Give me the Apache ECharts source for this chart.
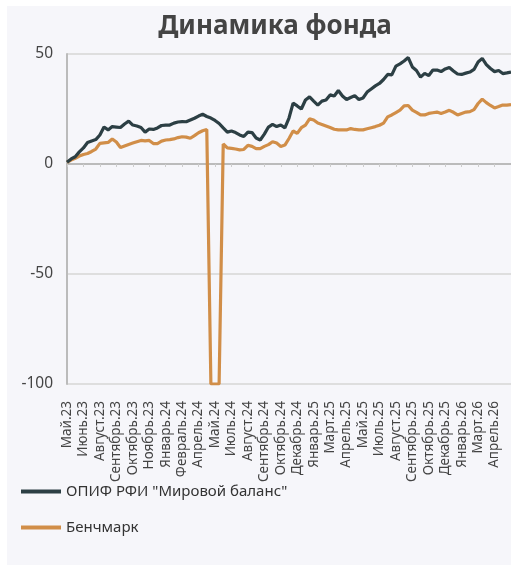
<!DOCTYPE html>
<html>
<head>
<meta charset="utf-8">
<script src="https://cdn.jsdelivr.net/npm/echarts@6/dist/echarts.min.js"></script>
<style>
html,body{margin:0;padding:0;background:#ffffff;width:511px;height:565px;overflow:hidden;}
#bg{position:absolute;left:7px;top:6px;width:504px;height:559px;background:#f6f6fa;}
#chart{position:absolute;left:0;top:0;width:511px;height:565px;}
</style>
</head>
<body>
<div id="bg"></div>
<div id="chart"></div>
<script>
var tickLabels = ['Май.23','Июнь.23','Август.23','Сентябрь.23','Октябрь.23','Ноябрь.23','Январь.24','Февраль.24','Апрель.24','Май.24','Июль.24','Август.24','Сентябрь.24','Октябрь.24','Декабрь.24','Январь.25','Март.25','Апрель.25','Май.25','Июль.25','Август.25','Сентябрь.25','Октябрь.25','Декабрь.25','Январь.26','Март.26','Апрель.26'];
var pointsPerTick = 4;

var fund = [0.8,2.3,3.3,5.5,7.3,9.8,10.5,11.1,13.2,16.8,15.5,17.0,16.8,16.6,18.2,19.5,17.7,17.3,16.6,14.5,
15.9,15.7,16.4,17.5,17.7,17.7,18.6,19.1,19.3,19.2,20.0,20.8,21.8,22.6,21.6,20.9,19.8,18.4,16.4,14.5,
15.0,14.3,13.2,12.5,14.5,14.3,11.8,10.9,13.6,16.8,18.0,17.0,17.7,16.4,20.9,27.7,26.4,25.0,29.1,30.5,
28.6,26.8,28.6,29.1,31.4,30.9,33.4,30.9,29.3,30.2,31.1,29.3,30.0,32.7,34.1,35.5,36.6,38.4,40.7,40.5,
44.5,45.5,46.8,48.4,44.1,42.5,39.5,41.2,40.2,42.7,42.7,42.0,43.2,43.9,42.3,40.9,40.7,41.3,41.8,43.0,
46.4,48.0,45.2,43.4,42.0,42.5,41.1,41.4,41.8];

var bench = [0.8,1.8,2.6,3.6,4.3,4.8,5.7,6.8,9.4,9.6,9.8,11.4,10.0,7.5,8.2,8.9,9.5,10.1,10.7,10.5,
10.7,9.3,9.3,10.4,10.9,11.1,11.4,12.0,12.4,12.2,11.7,12.9,14.2,15.1,15.7,-100,-100,-100,9.1,7.3,
7.1,6.8,6.4,6.6,8.5,8.0,7.0,7.0,8.0,8.8,10.1,9.5,8.0,8.6,11.6,15.0,13.9,16.5,17.7,20.5,
20.0,18.6,18.0,17.3,16.6,15.8,15.5,15.5,15.5,16.1,15.7,15.5,15.5,16.0,16.5,17.0,17.6,18.6,21.4,22.3,
23.4,24.5,26.4,26.6,24.5,23.5,22.3,22.3,23.0,23.3,23.6,23.0,23.6,24.4,23.5,22.3,23.0,23.6,23.8,24.7,
27.5,29.5,27.9,26.6,25.5,26.1,26.8,26.8,27.0];

var categories = fund.map(function(v, i){ return String(i); });

var chart = echarts.init(document.getElementById('chart'), null, {renderer:'canvas'});
var FONT = 'Noto Sans';
chart.setOption({
  backgroundColor: 'transparent',
  animation: false,
  title: {
    text: 'Динамика фонда',
    left: 270, top: 9, textAlign: 'center',
    textStyle: {fontFamily: FONT, fontSize: 26, fontWeight: 'bold', color: '#444444'}
  },
  legend: {
    orient: 'vertical', left: 21, top: 483, padding: 0,
    itemWidth: 40, itemHeight: 4, itemGap: 19, icon: 'rect',
    textStyle: {fontFamily: FONT, fontSize: 15, color: '#333333', lineHeight: 17},
    data: ['ОПИФ РФИ "Мировой баланс"', 'Бенчмарк']
  },
  grid: {left: 67, top: 54, bottom: 181, right: -9, containLabel: false},
  xAxis: {
    type: 'category', data: categories, boundaryGap: false,
    axisLine: {show: true, lineStyle: {color: '#bbbbbb', width: 2}},
    axisTick: {show: true, interval: pointsPerTick - 1, length: 3, lineStyle: {color: '#cccccc'}},
    axisLabel: {
      interval: pointsPerTick - 1, rotate: 90, margin: 17,
      fontFamily: FONT, fontSize: 13.5, color: '#444444',
      formatter: function(v, idx){ return idx % pointsPerTick === 0 ? (tickLabels[idx / pointsPerTick] || '') : ''; }
    },
    splitLine: {show: false}
  },
  yAxis: {
    type: 'value', min: -100, max: 50, interval: 50,
    axisLine: {show: true, lineStyle: {color: '#bbbbbb', width: 2}},
    axisTick: {show: false},
    axisLabel: {fontFamily: FONT, fontSize: 15.5, color: '#444444', margin: 14},
    splitLine: {show: true, lineStyle: {color: '#dedede', width: 2}}
  },
  series: [
    {name: 'ОПИФ РФИ "Мировой баланс"', type: 'line', data: fund, symbol: 'none',
     lineStyle: {color: '#2c3f44', width: 3.2}, itemStyle: {color: '#2c3f44'}, z: 3},
    {name: 'Бенчмарк', type: 'line', data: bench, symbol: 'none',
     lineStyle: {color: '#d18e48', width: 3.2}, itemStyle: {color: '#d18e48'}, z: 2}
  ]
});
</script>
</body>
</html>
